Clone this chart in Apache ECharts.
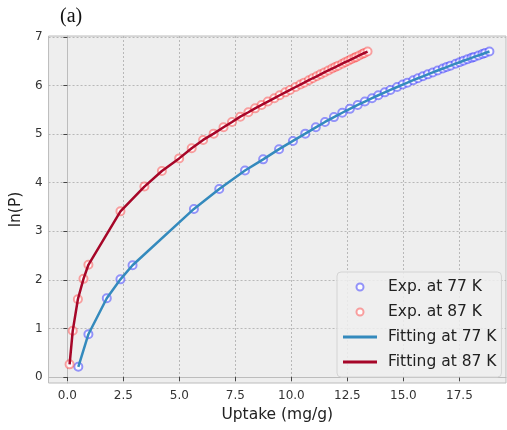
<!DOCTYPE html>
<html>
<head>
<meta charset="utf-8">
<script src="https://cdn.jsdelivr.net/npm/echarts@6/dist/echarts.min.js"></script>
<style>html,body{margin:0;padding:0;background:#fff}#c{width:507px;height:430px}</style>
</head>
<body>
<div id="c"></div>
<script>
var exp77X = [0.49, 0.94, 1.76, 2.37, 2.91, 5.65, 6.78, 7.93, 8.74, 9.45, 10.07, 10.62, 11.09, 11.50, 11.90, 12.27, 12.61, 12.96, 13.28, 13.60, 13.88, 14.17, 14.42, 14.72, 14.97, 15.18, 15.44, 15.65, 15.87, 16.09, 16.31, 16.53, 16.76, 16.93, 17.10, 17.33, 17.51, 17.68, 17.86, 18.04, 18.16, 18.35, 18.53, 18.65, 18.84];
var exp77Y = [0.21, 0.88, 1.62, 2.01, 2.30, 3.46, 3.87, 4.25, 4.48, 4.69, 4.86, 5.01, 5.14, 5.25, 5.35, 5.44, 5.52, 5.60, 5.67, 5.74, 5.80, 5.86, 5.91, 5.97, 6.02, 6.06, 6.11, 6.15, 6.19, 6.23, 6.27, 6.31, 6.35, 6.38, 6.41, 6.45, 6.48, 6.51, 6.54, 6.57, 6.59, 6.62, 6.65, 6.67, 6.70];
var exp87X = [0.10, 0.24, 0.47, 0.72, 0.94, 2.37, 3.44, 4.22, 4.99, 5.55, 6.06, 6.53, 6.97, 7.35, 7.72, 8.08, 8.38, 8.67, 8.95, 9.24, 9.48, 9.73, 9.94, 10.19, 10.40, 10.57, 10.78, 10.95, 11.13, 11.30, 11.47, 11.65, 11.82, 11.96, 12.09, 12.27, 12.40, 12.54, 12.67, 12.81, 12.90, 13.03, 13.17, 13.26, 13.40];
var exp87Y = [0.26, 0.95, 1.60, 2.02, 2.31, 3.41, 3.92, 4.24, 4.50, 4.71, 4.88, 5.01, 5.14, 5.25, 5.36, 5.45, 5.53, 5.60, 5.67, 5.74, 5.80, 5.86, 5.91, 5.97, 6.02, 6.06, 6.11, 6.15, 6.19, 6.23, 6.27, 6.31, 6.35, 6.38, 6.41, 6.45, 6.48, 6.51, 6.54, 6.57, 6.59, 6.62, 6.65, 6.67, 6.70];
var xTicks = [0, 2.5, 5, 7.5, 10, 12.5, 15, 17.5];
var yTicks = [0, 1, 2, 3, 4, 5, 6, 7];
var seriesNames = ['Exp. at 77 K', 'Exp. at 87 K', 'Fitting at 77 K', 'Fitting at 87 K'];

function zip(a, b) { return a.map(function (v, i) { return [v, b[i]]; }); }

var chart = echarts.init(document.getElementById('c'), null, {renderer: 'canvas'});
var FONT = 'DejaVu Sans';
var lineIcon = 'path://M0,0L34,0L34,3L0,3Z';
chart.setOption({
  animation: false,
  backgroundColor: '#ffffff',
  title: {
    text: '(a)', left: 55, top: 2,
    textStyle: {fontFamily: 'Liberation Serif', fontSize: 20, fontWeight: 'normal', color: '#111'}
  },
  grid: {left: 45, top: 36, right: 1, bottom: 47, show: true, backgroundColor: '#eeeeee', borderColor: '#bcbcbc', borderWidth: 1},
  xAxis: {
    type: 'value', min: -0.84, max: 19.58,
    name: 'Uptake (mg/g)', nameLocation: 'middle', nameGap: 21,
    nameTextStyle: {fontFamily: FONT, fontSize: 15.5, color: '#222'},
    axisLine: {show: true, lineStyle: {color: '#bcbcbc'}},
    axisTick: {show: true, length: 4, inside: false, customValues: xTicks, lineStyle: {color: '#444'}},
    axisLabel: {customValues: xTicks, margin: 7, fontFamily: FONT, fontSize: 12, color: '#333',
      formatter: function (v) { return v.toFixed(1); }},
    splitLine: {show: true, lineStyle: {color: '#b8b8b8', type: [2, 2], width: 1}}
  },
  yAxis: {
    type: 'value', min: -0.124, max: 7.02,
    name: 'ln(P)', nameLocation: 'middle', nameGap: 16,
    nameTextStyle: {fontFamily: FONT, fontSize: 15.5, color: '#222'},
    axisLine: {show: true, lineStyle: {color: '#bcbcbc'}},
    axisTick: {show: true, length: 4, inside: false, customValues: yTicks, lineStyle: {color: '#444'}},
    axisLabel: {customValues: yTicks, margin: 6, fontFamily: FONT, fontSize: 12, color: '#333'},
    splitLine: {show: true, lineStyle: {color: '#b8b8b8', type: [2, 2], width: 1}}
  },
  legend: {
    orient: 'vertical', left: 337, top: 272,
    padding: [6, 5, 6, 6], itemGap: 7, itemWidth: 34, itemHeight: 7,
    backgroundColor: 'rgba(238,238,238,0.85)', borderColor: '#d4d4d4', borderWidth: 1, borderRadius: 4,
    textStyle: {fontFamily: FONT, fontSize: 15.5, color: '#222', lineHeight: 18, padding: [0, 0, 0, 6]},
    data: [
      {name: seriesNames[0]},
      {name: seriesNames[1]},
      {name: seriesNames[2], icon: lineIcon},
      {name: seriesNames[3], icon: lineIcon}
    ]
  },
  series: [
    {name: seriesNames[0], type: 'scatter', data: zip(exp77X, exp77Y), symbol: 'emptyCircle', symbolSize: 8,
      itemStyle: {color: 'rgba(40,40,255,0.6)', borderColor: 'rgba(40,40,255,0.6)', borderWidth: 1}},
    {name: seriesNames[1], type: 'scatter', data: zip(exp87X, exp87Y), symbol: 'emptyCircle', symbolSize: 8,
      itemStyle: {color: 'rgba(255,30,30,0.5)', borderColor: 'rgba(255,30,30,0.5)', borderWidth: 1}},
    {name: seriesNames[2], type: 'line', data: zip(exp77X, exp77Y), symbol: 'none', showSymbol: false,
      lineStyle: {color: '#348ABD', width: 2.5}, itemStyle: {color: '#348ABD'}},
    {name: seriesNames[3], type: 'line', data: zip(exp87X, exp87Y), symbol: 'none', showSymbol: false,
      lineStyle: {color: '#A60628', width: 2.5}, itemStyle: {color: '#A60628'}}
  ]
});
</script>
</body>
</html>
